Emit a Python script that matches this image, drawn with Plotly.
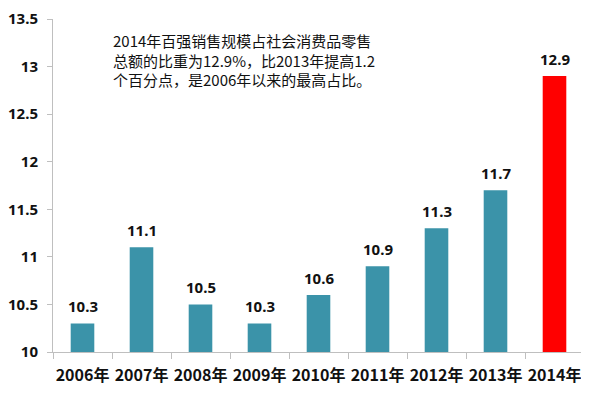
import plotly.graph_objects as go

years = ["2006年", "2007年", "2008年", "2009年", "2010年", "2011年", "2012年", "2013年", "2014年"]
values = [10.3, 11.1, 10.5, 10.3, 10.6, 10.9, 11.3, 11.7, 12.9]
labels = ["10.3", "11.1", "10.5", "10.3", "10.6", "10.9", "11.3", "11.7", "12.9"]
y_ticks = [10, 10.5, 11, 11.5, 12, 12.5, 13, 13.5]
y_tick_text = ["10", "10.5", "11", "11.5", "12", "12.5", "13", "13.5"]
colors = ["#3B93A9"] * 8 + ["#FF0000"]
note = "2014年百强销售规模占社会消费品零售<br>总额的比重为12.9%，比2013年提高1.2<br>个百分点，是2006年以来的最高占比。"

# page body has an 8px default margin, so the figure is sized to fill the rest of the window
fig = go.Figure(go.Bar(
    x=years, y=values, marker=dict(color=colors, line=dict(width=0)),
))
value_annotations = [
    dict(x=yr, y=v, xref="x", yref="y", text=t, showarrow=False, yanchor="bottom", yshift=5,
         font=dict(family="Noto Sans, sans-serif", size=15, color="#111", weight="bold"))
    for yr, v, t in zip(years, values, labels)
]
fig.update_layout(
    width=581, height=389,
    margin=dict(l=45, r=5, t=11, b=45, autoexpand=False),
    plot_bgcolor="white", paper_bgcolor="white",
    bargap=0.6, showlegend=False,
    font=dict(family="Noto Sans CJK SC, sans-serif", color="#111"),
    xaxis=dict(showline=True, linecolor="#BFBFBF", ticks="outside", tickson="boundaries",
               tickcolor="#BFBFBF", ticklen=6, tickangle=0, automargin=False,
               ticklabelstandoff=9,
               tickfont=dict(size=16, family="Noto Sans CJK SC, sans-serif", weight="bold"),
               showgrid=False),
    yaxis=dict(range=[10, 13.5], tickvals=y_ticks, ticktext=y_tick_text, showline=True,
               linecolor="#BFBFBF", ticks="outside", tickcolor="#BFBFBF", ticklen=5,
               showgrid=False, zeroline=False, automargin=False, ticklabelstandoff=6,
               tickfont=dict(size=15, family="Noto Sans, sans-serif", weight="bold")),
    annotations=value_annotations + [
        dict(x=0.11, y=0.972, xref="paper", yref="paper", xanchor="left", yanchor="top",
             text=note, showarrow=False, align="left",
             font=dict(size=15, family="Noto Sans CJK SC, sans-serif", color="#111"))],
)
fig.write_html("out.html")
